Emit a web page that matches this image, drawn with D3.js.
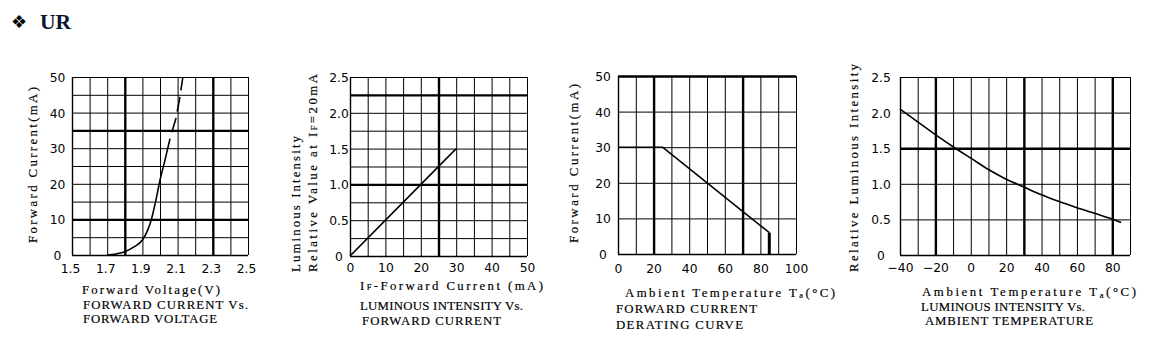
<!DOCTYPE html>
<html><head><meta charset="utf-8">
<script src="https://cdn.jsdelivr.net/npm/d3@7"></script>
<style>
html,body{margin:0;padding:0;background:#fff;}
svg{display:block;}
.tk{font-family:"DejaVu Sans",sans-serif;font-size:12.3px;fill:#000;}
.ttl{font-family:"Liberation Serif",serif;font-size:12.8px;fill:#000;stroke:#000;stroke-width:0.18px;}
</style></head><body>
<svg id="c" width="1152" height="355"></svg>
<script>
// ---------- data ----------
// Panel 1: forward current vs forward voltage
const fvVoltageSolid  = [1.70, 1.75, 1.80, 1.85, 1.90, 1.93, 1.95, 1.975, 2.00, 2.03, 2.057];
const fvCurrentSolid  = [0, 0.3, 0.9, 2.2, 4.2, 7.0, 9.8, 15, 21, 27, 32.7];
const fvVoltageDashed = [2.057, 2.09, 2.11, 2.13];
const fvCurrentDashed = [32.7, 38.3, 43.5, 50];
const fvXTicks = [1.5, 1.7, 1.9, 2.1, 2.3, 2.5];
const fvYTicks = [0, 10, 20, 30, 40, 50];

// Panel 2: luminous intensity vs forward current
const liCurrent = [0, 30];
const liValue   = [0, 1.5];
const liXTicks = [0, 10, 20, 30, 40, 50];
const liYTicks = [0, 0.5, 1.0, 1.5, 2.0, 2.5];

// Panel 3: forward current derating curve
const drTemp    = [0, 25, 85];
const drCurrent = [30, 30, 6];
const drCutTemp    = [85, 85];
const drCutCurrent = [6, 0];
const drXTicks = [0, 20, 40, 60, 80, 100];
const drYTicks = [0, 10, 20, 30, 40, 50];

// Panel 4: luminous intensity vs ambient temperature
const atTemp  = [-40, -30, -20, -10, 0, 10, 20, 30, 40, 50, 60, 70, 80, 85];
const atValue = [2.05, 1.87, 1.69, 1.52, 1.36, 1.20, 1.065, 0.955, 0.845, 0.75, 0.665, 0.585, 0.505, 0.455];
const atXTicks = [-40, -20, 0, 20, 40, 60, 80];
const atYTicks = [0, 0.5, 1.0, 1.5, 2.0, 2.5];

const svg = d3.select("#c");

// ---------- header ----------
svg.append("text").attr("x", 11).attr("y", 28)
  .attr("font-family", "DejaVu Sans").attr("font-size", 18).text("\u2756");
svg.append("text").attr("x", 40).attr("y", 28.5)
  .attr("font-family", "Liberation Serif").attr("font-weight", "bold")
  .attr("font-size", 21.5).attr("fill", "#0b1530").text("UR");

const near = (a, list) => list.some(t => Math.abs(a - t) < 1e-6);

function title(parts, x, y, len, rot) {
  const t = svg.append("text").attr("class", "ttl")
    .attr("textLength", len).attr("lengthAdjust", "spacing");
  if (rot) t.attr("transform", `translate(${x},${y}) rotate(-90)`);
  else t.attr("x", x).attr("y", y);
  parts.forEach(p => {
    const s = t.append("tspan").text(p.t);
    if (p.sub) s.attr("font-size", 8.5).attr("dy", p.dy || 0);
    if (p.back) s.attr("dy", p.back);
  });
}

function panel(cfg) {
  const g = svg.append("g");
  const x = d3.scaleLinear().domain(cfg.xDomain).range([cfg.left, cfg.right]);
  const y = d3.scaleLinear().domain(cfg.yDomain).range([cfg.bottom, cfg.top]);
  const w = cfg.right - cfg.left, h = cfg.bottom - cfg.top;
  const gx = d3.range(cfg.xDomain[0], cfg.xDomain[1] + cfg.xStep / 2, cfg.xStep).map(v => +v.toFixed(6));
  const gy = d3.range(cfg.yDomain[0], cfg.yDomain[1] + cfg.yStep / 2, cfg.yStep).map(v => +v.toFixed(6));

  // vertical grid
  g.append("g").attr("transform", `translate(0,${cfg.bottom})`)
    .call(d3.axisBottom(x).tickValues(gx).tickSize(-h).tickFormat(""))
    .call(s => s.select(".domain").remove())
    .selectAll("line").attr("stroke", "#000")
    .attr("stroke-width", d => near(d, cfg.thickX) ? 2.4 : (d === gx[0] ? 1.4 : 1));
  // horizontal grid
  g.append("g").attr("transform", `translate(${cfg.left},0)`)
    .call(d3.axisLeft(y).tickValues(gy).tickSize(-w).tickFormat(""))
    .call(s => s.select(".domain").remove())
    .selectAll("line").attr("stroke", "#000")
    .attr("stroke-width", d => near(d, cfg.thickY) ? 2.4 : (d === gy[0] ? 1.4 : 1));

  // tick labels
  const ax = g.append("g").attr("transform", `translate(0,${cfg.bottom})`)
    .call(d3.axisBottom(x).tickValues(cfg.xTicks).tickFormat(cfg.xFmt).tickSize(0));
  ax.select(".domain").remove();
  ax.selectAll("text").attr("class", "tk")
    .attr("dy", null).attr("y", cfg.xLabelY - cfg.bottom).attr("x", cfg.xLabelShift || 0);
  const ay = g.append("g").attr("transform", `translate(${cfg.left},0)`)
    .call(d3.axisLeft(y).tickValues(cfg.yTicks).tickFormat(cfg.yFmt).tickSize(0));
  ay.select(".domain").remove();
  ay.selectAll("text").attr("class", "tk")
    .attr("text-anchor", "middle").attr("x", -cfg.yLabelOff).attr("dy", "0.36em");
  [ax, ay].forEach(a => a.attr("font-family", null).attr("font-size", null));

  cfg.lines.forEach(L => {
    const pts = L.xs.map((v, i) => [x(v), y(L.ys[i])]);
    const p = g.append("path").attr("d", d3.line().curve(L.curve || d3.curveLinear)(pts))
      .attr("fill", "none").attr("stroke", "#000").attr("stroke-width", L.width || 1.6)
      .attr("stroke-linejoin", "round");
    if (L.dash) p.attr("stroke-dasharray", L.dash).attr("stroke-dashoffset", L.offset || 0);
  });
}

const fmt1 = d => d === 0 ? "0" : d.toFixed(1);

panel({
  left: 72, right: 248, top: 77, bottom: 255,
  xDomain: [1.5, 2.5], yDomain: [0, 50], xStep: 0.1, yStep: 5,
  thickX: [1.8, 2.3], thickY: [10, 35],
  xTicks: fvXTicks, yTicks: fvYTicks, xFmt: d3.format(".1f"), yFmt: d3.format("d"),
  xLabelY: 273, xLabelShift: -2, yLabelOff: 14.5,
  lines: [
    {xs: fvVoltageSolid, ys: fvCurrentSolid, curve: d3.curveMonotoneX},
    {xs: fvVoltageDashed, ys: fvCurrentDashed, dash: "15,6.5", offset: 15}
  ]
});
panel({
  left: 350, right: 527, top: 77, bottom: 256,
  xDomain: [0, 50], yDomain: [0, 2.5], xStep: 5, yStep: 0.25,
  thickX: [25], thickY: [1.0, 2.25],
  xTicks: liXTicks, yTicks: liYTicks, xFmt: d3.format("d"), yFmt: fmt1,
  xLabelY: 272, yLabelOff: 11,
  lines: [{xs: liCurrent, ys: liValue}]
});
panel({
  left: 618, right: 796, top: 76, bottom: 254,
  xDomain: [0, 100], yDomain: [0, 50], xStep: 10, yStep: 10,
  thickX: [20, 70], thickY: [50],
  xTicks: drXTicks, yTicks: drYTicks, xFmt: d3.format("d"), yFmt: d3.format("d"),
  xLabelY: 273, yLabelOff: 15,
  lines: [
    {xs: drTemp, ys: drCurrent, width: 1.6},
    {xs: drCutTemp, ys: drCutCurrent, width: 3}
  ]
});
panel({
  left: 900, right: 1130, top: 77, bottom: 255,
  xDomain: [-40, 90], yDomain: [0, 2.5], xStep: 10, yStep: 0.5,
  thickX: [-20, 30, 80], thickY: [1.5],
  xTicks: atXTicks, yTicks: atYTicks,
  xFmt: d => d < 0 ? "\u2212" + Math.abs(d) : String(d), yFmt: fmt1,
  xLabelY: 272, yLabelOff: 19,
  lines: [{xs: atTemp, ys: atValue, curve: d3.curveMonotoneX}]
});

// ---------- axis titles & captions ----------
// Panel 1
title([{t: "Forward Current(mA)"}], 37, 243, 156, true);
title([{t: "Forward Voltage(V)"}], 82, 294, 138);
title([{t: "FORWARD CURRENT Vs."}], 83, 308.5, 165);
title([{t: "FORWARD VOLTAGE"}], 83, 323, 134);
// Panel 2
title([{t: "Luminous Intensity"}], 300, 272, 136, true);
title([{t: "Relative Value at I"}, {t: "F", sub: true}, {t: "=20mA"}], 317, 272, 198, true);
title([{t: "I"}, {t: "F", sub: true}, {t: "-Forward Current (mA)"}], 360, 290, 183);
title([{t: "LUMINOUS INTENSITY Vs."}], 360, 309.5, 163);
title([{t: "FORWARD CURRENT"}], 362, 325, 139);
// Panel 3
title([{t: "Forward Current(mA)"}], 578, 243, 159, true);
title([{t: "Ambient Temperature T"}, {t: "a", sub: true, dy: 1.5}, {t: "(\u00B0C)", back: -1.5}], 625, 296.5, 210);
title([{t: "FORWARD CURRENT"}], 616, 313, 141);
title([{t: "DERATING CURVE"}], 616, 328.5, 127);
// Panel 4
title([{t: "Relative Luminous Intensity"}], 858, 272, 208, true);
title([{t: "Ambient Temperature T"}, {t: "a", sub: true, dy: 1.5}, {t: "(\u00B0C)", back: -1.5}], 922, 296, 214);
title([{t: "LUMINOUS INTENSITY Vs."}], 921, 310.5, 164);
title([{t: "AMBIENT TEMPERATURE"}], 925, 325, 168);
</script>
</body></html>
